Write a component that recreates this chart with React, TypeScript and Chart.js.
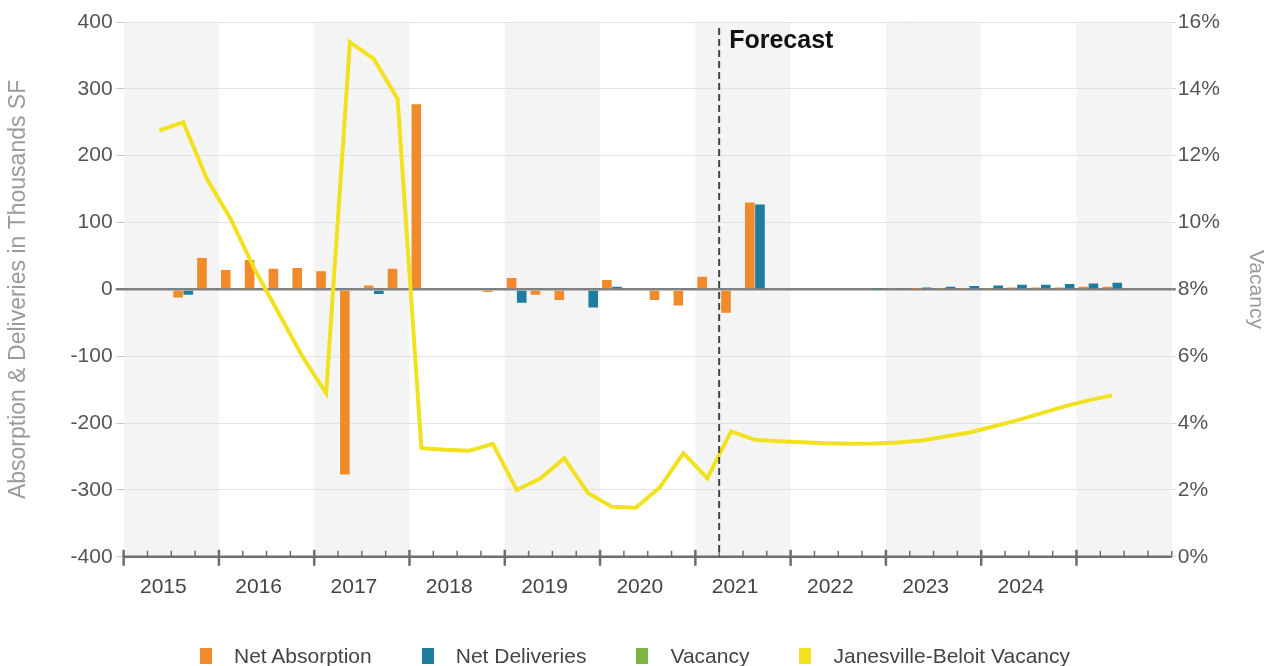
import React, { useEffect, useRef, useState } from "react";
import { Chart, registerables } from "chart.js";

Chart.register(...registerables);

const FONT = "'Liberation Sans', Arial, Helvetica, sans-serif";

// Quarterly categories (2015 Q1 .. 2025 Q4)
const QUARTERS: string[] = [
  "2015 Q1", "2015 Q2", "2015 Q3", "2015 Q4",
  "2016 Q1", "2016 Q2", "2016 Q3", "2016 Q4",
  "2017 Q1", "2017 Q2", "2017 Q3", "2017 Q4",
  "2018 Q1", "2018 Q2", "2018 Q3", "2018 Q4",
  "2019 Q1", "2019 Q2", "2019 Q3", "2019 Q4",
  "2020 Q1", "2020 Q2", "2020 Q3", "2020 Q4",
  "2021 Q1", "2021 Q2", "2021 Q3", "2021 Q4",
  "2022 Q1", "2022 Q2", "2022 Q3", "2022 Q4",
  "2023 Q1", "2023 Q2", "2023 Q3", "2023 Q4",
  "2024 Q1", "2024 Q2", "2024 Q3", "2024 Q4",
  "2025 Q1", "2025 Q2", "2025 Q3", "2025 Q4",
];

// Year tick labels shown under the axis
const YEAR_LABELS: string[] = [
  "2015", "2016", "2017", "2018", "2019", "2020", "2021", "2022", "2023", "2024",
];

const FORECAST_START = "2021 Q2";

// Thousands SF
const NET_ABSORPTION: (number | null)[] = [
  null, 0, -12, 47,
  29, 44, 31, 32,
  27, -277, 6, 31,
  277, 0, -2, -4,
  17, -8, -16, 0,
  14, 0, -16, -24,
  19, -35, 130, 0,
  0, 0, 0, 0,
  0, 1, 2, 2,
  2, 3, 3, 3,
  4, 4, null, null,
];

const NET_DELIVERIES: (number | null)[] = [
  null, 0, -8, 0,
  0, 0, 0, 0,
  0, 0, -7, 0,
  0, 0, 0, 0,
  -20, 0, 0, -27,
  4, 0, 0, 0,
  0, 0, 127, 0,
  0, 0, 0, 1,
  2, 3, 4, 5,
  6, 7, 7, 8,
  9, 10, null, null,
];

// Percent
const VACANCY: (number | null)[] = QUARTERS.map(() => null);

const JB_VACANCY: (number | null)[] = [
  null, 12.76, 13.0, 11.3,
  10.1, 8.6, 7.3, 6.0,
  4.9, 15.4, 14.9, 13.7,
  3.25, 3.2, 3.17, 3.38,
  2.0, 2.35, 2.95, 1.9,
  1.5, 1.47, 2.07, 3.1,
  2.35, 3.75, 3.5, 3.46,
  3.43, 3.4, 3.38, 3.39,
  3.42, 3.48, 3.6, 3.72,
  3.9, 4.08, 4.29, 4.5,
  4.68, 4.83, null, null,
];

const COLORS = {
  absorption: "#F08A2A",
  deliveries: "#1E7D9E",
  vacancy: "#7DB544",
  jb: "#F2E21E",
};

const decorPlugin = {
  id: "decor",
  beforeDraw(chart: any) {
    const { ctx, chartArea: a, scales } = chart;
    const x = scales.x;
    const n = QUARTERS.length;
    const half = (x.getPixelForValue(1) - x.getPixelForValue(0)) / 2;
    ctx.save();
    ctx.fillStyle = "#F4F4F4";
    for (let i = 0; i < n; i += 8) {
      const l = x.getPixelForValue(i) - half;
      const r = Math.min(x.getPixelForValue(Math.min(i + 3, n - 1)) + half, a.right);
      ctx.fillRect(l, a.top, r - l, a.bottom - a.top);
    }
    ctx.restore();
  },
  afterDatasetsDraw(chart: any) {
    const { ctx, chartArea: a, scales } = chart;
    const x = scales.x;
    const n = QUARTERS.length;
    const half = (x.getPixelForValue(1) - x.getPixelForValue(0)) / 2;
    ctx.save();
    // axis line
    ctx.strokeStyle = "#6E6E6E";
    ctx.lineWidth = 2.5;
    ctx.beginPath();
    ctx.moveTo(a.left, a.bottom);
    ctx.lineTo(a.right, a.bottom);
    ctx.stroke();
    // tick marks at quarter boundaries
    for (let i = 0; i <= n; i++) {
      const bx = i === n ? x.getPixelForValue(n - 1) + half : x.getPixelForValue(i) - half;
      ctx.beginPath();
      if (i % 4 === 0 && i !== n) {
        ctx.lineWidth = 2.5;
        ctx.moveTo(bx, a.bottom - 7);
        ctx.lineTo(bx, a.bottom + 9);
      } else {
        ctx.lineWidth = 1.5;
        ctx.moveTo(bx, a.bottom - 6);
        ctx.lineTo(bx, a.bottom);
      }
      ctx.stroke();
    }
    // forecast divider
    const fi = QUARTERS.indexOf(FORECAST_START);
    const fx = x.getPixelForValue(fi) - half;
    ctx.strokeStyle = "#444";
    ctx.lineWidth = 2;
    ctx.setLineDash([7, 4]);
    ctx.beginPath();
    ctx.moveTo(fx, a.top + 6);
    ctx.lineTo(fx, a.bottom);
    ctx.stroke();
    ctx.setLineDash([]);
    ctx.fillStyle = "#111";
    ctx.font = `bold 25px ${FONT}`;
    ctx.textBaseline = "middle";
    ctx.textAlign = "left";
    ctx.fillText("Forecast", fx + 10, a.top + 19);
    ctx.restore();
  },
};

type LegendItem = { text: string; color: string };

export default function App() {
  const canvasRef = useRef<HTMLCanvasElement | null>(null);
  const [legend, setLegend] = useState<LegendItem[]>([]);

  useEffect(() => {
    if (!canvasRef.current) return;
    const chart = new Chart(canvasRef.current, {
      type: "bar",
      data: {
        labels: QUARTERS,
        datasets: [
          {
            type: "bar",
            label: "Net Absorption",
            data: NET_ABSORPTION,
            backgroundColor: COLORS.absorption,
            yAxisID: "y",
            order: 2,
            categoryPercentage: 0.85,
            barPercentage: 0.95,
          },
          {
            type: "bar",
            label: "Net Deliveries",
            data: NET_DELIVERIES,
            backgroundColor: COLORS.deliveries,
            yAxisID: "y",
            order: 2,
            categoryPercentage: 0.85,
            barPercentage: 0.95,
          },
          {
            type: "line",
            label: "Vacancy",
            data: VACANCY,
            borderColor: COLORS.vacancy,
            backgroundColor: COLORS.vacancy,
            yAxisID: "y1",
            pointRadius: 0,
            borderWidth: 4,
            order: 1,
          },
          {
            type: "line",
            label: "Janesville-Beloit Vacancy",
            data: JB_VACANCY,
            borderColor: COLORS.jb,
            backgroundColor: COLORS.jb,
            yAxisID: "y1",
            pointRadius: 0,
            borderWidth: 4,
            tension: 0,
            order: 0,
          },
        ] as any,
      },
      options: {
        animation: false,
        responsive: true,
        maintainAspectRatio: false,
        layout: { padding: { top: 22, bottom: 56, left: 0, right: 0 } },
        plugins: {
          legend: { display: false },
          tooltip: { enabled: false },
        },
        scales: {
          x: {
            type: "category",
            offset: true,
            grid: { display: false },
            border: { display: false },
            ticks: {
              autoSkip: false,
              maxRotation: 0,
              minRotation: 0,
              labelOffset: 4,
              padding: 10,
              color: "#444",
              font: { family: FONT, size: 21 },
              callback: (_v: any, i: number) =>
                i % 4 === 1 ? YEAR_LABELS[Math.floor(i / 4)] ?? "" : "",
            },
          },
          y: {
            position: "left",
            min: -400,
            max: 400,
            ticks: {
              stepSize: 100,
              color: "#555",
              padding: 3,
              font: { family: FONT, size: 21 },
            },
            grid: {
              color: (c: any) => (c.tick && c.tick.value === 0 ? "#808080" : "#E2E2E2"),
              tickColor: (c: any) => (c.tick && c.tick.value === 0 ? "#808080" : "#C8C8C8"),
              lineWidth: (c: any) => (c.tick && c.tick.value === 0 ? 2.5 : 1),
              tickLength: 8,
            },
            border: { display: false },
            title: {
              display: true,
              text: "Absorption & Deliveries in Thousands SF",
              color: "#9A9A9A",
              font: { family: FONT, size: 23 },
              padding: { top: 5, bottom: 35 },
            },
          },
          y1: {
            position: "right",
            min: 0,
            max: 16,
            ticks: {
              stepSize: 2,
              color: "#555",
              padding: 2,
              font: { family: FONT, size: 21 },
              callback: (v: any) => `${v}%`,
            },
            grid: {
              drawOnChartArea: false,
              tickLength: 4,
              tickColor: (c: any) => (c.tick && c.tick.value === 8 ? "#808080" : "#D0D0D0"),
              lineWidth: (c: any) => (c.tick && c.tick.value === 8 ? 2.5 : 1),
            },
            border: { display: false },
            title: {
              display: true,
              text: "Vacancy",
              color: "#9A9A9A",
              font: { family: FONT, size: 21 },
              padding: { top: 2, bottom: 21 },
            },
          },
        },
      },
      plugins: [decorPlugin],
    });

    const items = chart.data.datasets.map((d: any) => ({
      text: d.label as string,
      color: (d.backgroundColor as string) || (d.borderColor as string),
    }));
    setLegend(items);

    return () => {
      chart.destroy();
    };
  }, []);

  return (
    <div
      style={{
        position: "fixed",
        left: 0,
        top: 0,
        width: 1270,
        height: 666,
        background: "#fff",
        overflow: "hidden",
      }}
    >
      <div style={{ position: "absolute", left: 0, top: 0, width: 1270, height: 666 }}>
        <canvas ref={canvasRef} />
      </div>
      <div
        style={{
          position: "absolute",
          left: 0,
          top: 644,
          width: 1270,
          display: "flex",
          justifyContent: "center",
          gap: 50,
          fontFamily: FONT,
          fontSize: 21,
          color: "#444",
          lineHeight: "24px",
        }}
      >
        {legend.map((it) => (
          <div key={it.text} style={{ display: "flex", alignItems: "center" }}>
            <span
              style={{
                display: "inline-block",
                width: 12,
                height: 16,
                background: it.color,
                marginRight: 22,
              }}
            />
            <span>{it.text}</span>
          </div>
        ))}
      </div>
    </div>
  );
}
